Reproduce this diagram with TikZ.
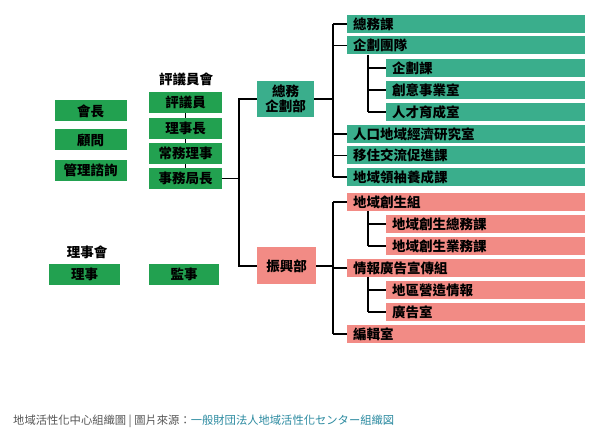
\documentclass[tikz,border=0pt]{standalone}
\usepackage{fontspec}
\setmainfont{Noto Sans CJK TC}
\definecolor{gboxc}{HTML}{22A150}
\definecolor{tboxc}{HTML}{3AAE8C}
\definecolor{pboxc}{HTML}{F28B85}
\definecolor{capgray}{HTML}{555555}
\definecolor{linkc}{HTML}{2B8AA0}
\tikzset{
  base/.style={rectangle, inner sep=0pt, font=\fontsize{13.5}{15}\selectfont\bfseries, text=black},
  gbox/.style={base, fill=gboxc, minimum height=21pt, minimum width=72pt},
  dept/.style={base, align=center, font=\fontsize{13.5}{15.5}\selectfont\bfseries},
  rtop/.style={base, fill=tboxc, anchor=west, minimum height=18pt, text width=226pt, inner xsep=6pt, align=left},
  rsub/.style={base, fill=tboxc, anchor=west, minimum height=18pt, text width=187pt, inner xsep=6pt, align=left},
  ptop/.style={rtop, fill=pboxc},
  psub/.style={rsub, fill=pboxc},
  title/.style={font=\fontsize{13.5}{15}\selectfont\bfseries},
  conn/.style={draw=black, line width=1.8pt},
}
\begin{document}
\begin{tikzpicture}[x=1pt,y=-1pt]
\useasboundingbox (0,0) rectangle (600,435);
% left column
\node[gbox] (kaicho) at (90.5,111) {會長};
\node[gbox] (komon) at (90.5,140) {顧問};
\node[gbox] (kanri) at (90.5,170.5) {管理諮詢};
% council
\node[title] (hyogikai) at (186,79) {評議員會};
\node[gbox, minimum width=73pt] (hyogi) at (185.5,102.5) {評議員};
\node[gbox, minimum width=73pt] (rijicho) at (185.5,128.5) {理事長};
\node[gbox, minimum width=73pt] (jomu) at (185.5,153.5) {常務理事};
\node[gbox, minimum width=73pt] (jimu) at (185.5,178.5) {事務局長};
\draw[conn] (hyogi.south) -- (rijicho.north);
\draw[conn] (rijicho.south) -- (jomu.north);
\draw[conn] (jomu.south) -- (jimu.north);
% board
\node[title] (rijikai) at (87,252) {理事會};
\node[gbox, minimum width=71pt] (riji) at (84.5,274.5) {理事};
\node[gbox, minimum width=70pt] (kanji) at (184,274.5) {監事};
% departments
\node[dept, fill=tboxc, minimum width=57pt, minimum height=36pt] (somu) at (285.5,99) {總務\\企劃部};
\node[dept, fill=pboxc, minimum width=59pt, minimum height=37pt] (shinko) at (286.5,266) {振興部};
\coordinate (j1) at (239,177);
\draw[conn] (jimu.east) -- (jimu.east -| j1);
\draw[conn] (somu.west) -- (somu.west -| j1) -- (shinko.west -| j1) -- (shinko.west);
% right column: general affairs
\coordinate (sp) at (333,0);
\coordinate (s1) at (368,0);
\node[rtop] (r1) at (347,24) {總務課};
\node[rtop] (r2) at (347,45.5) {企劃團隊};
\node[rsub] (r2a) at (386,68) {企劃課};
\node[rsub] (r2b) at (386,90) {創意事業室};
\node[rsub] (r2c) at (386,112) {人才育成室};
\node[rtop] (r3) at (347,134) {人口地域經濟研究室};
\node[rtop] (r4) at (347,155.5) {移住交流促進課};
\node[rtop] (r5) at (347,177) {地域領袖養成課};
\draw[conn] (somu.east) -- (somu.east -| sp);
\draw[conn] (sp |- r1.west) -- (sp |- r5.west);
\foreach \n in {r1,r2,r3,r4,r5} \draw[conn] (sp |- \n.west) -- (\n.west);
\draw[conn] (s1 |- r2.south) -- (s1 |- r2c.west);
\foreach \n in {r2a,r2b,r2c} \draw[conn] (s1 |- \n.west) -- (\n.west);
% right column: promotion
\node[ptop] (p1) at (347,202) {地域創生組};
\node[psub] (p1a) at (386,224) {地域創生總務課};
\node[psub] (p1b) at (386,246) {地域創生業務課};
\node[ptop] (p2) at (347,268) {情報廣告宣傳組};
\node[psub] (p2a) at (386,290) {地區營造情報};
\node[psub] (p2b) at (386,312) {廣告室};
\node[ptop] (p3) at (347,334) {編輯室};
\draw[conn] (shinko.east) -- (shinko.east -| sp);
\draw[conn] (sp |- p1.west) -- (sp |- p3.west);
\foreach \n in {p1,p2,p3} \draw[conn] (sp |- \n.west) -- (\n.west);
\draw[conn] (s1 |- p1.south) -- (s1 |- p1b.west);
\foreach \n in {p1a,p1b} \draw[conn] (s1 |- \n.west) -- (\n.west);
\draw[conn] (s1 |- p2.south) -- (s1 |- p2b.west);
\foreach \n in {p2a,p2b} \draw[conn] (s1 |- \n.west) -- (\n.west);
% caption
\node[anchor=west, inner sep=0pt, font=\fontsize{11.3}{13}\selectfont, text=capgray] (cap) at (13,421) {地域活性化中心組織圖 | 圖片來源：\textcolor{linkc}{一般財団法人地域活性化センター組織図}};
\end{tikzpicture}
\end{document}
